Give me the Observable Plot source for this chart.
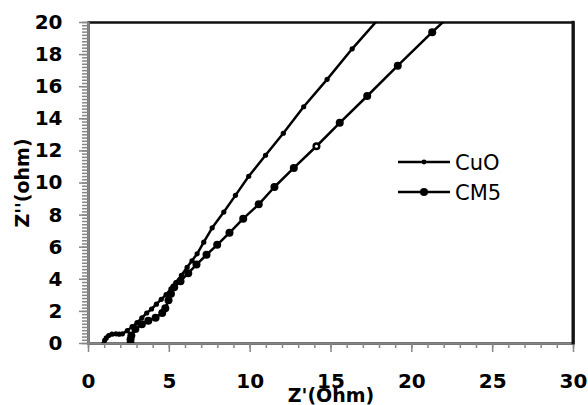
<!DOCTYPE html>
<html>
<head>
<meta charset="utf-8">
<script src="https://cdn.jsdelivr.net/npm/d3@7"></script>
<script src="https://cdn.jsdelivr.net/npm/@observablehq/plot@0.6"></script>
<style>
  html, body { margin: 0; padding: 0; background: #fff; overflow: hidden; }
  #wrap { position: relative; width: 588px; height: 405px; overflow: hidden; }
  #wrap svg { display: block; }
  #legend { position: absolute; left: 0; top: 0; }
</style>
</head>
<body>
<div id="wrap"></div>
<script>
// ---- data ----
const cuoX = [0.95, 1.0, 1.1, 1.25, 1.45, 1.7, 1.9, 2.1, 2.4, 2.7, 3.0, 3.3, 3.6, 3.9, 4.2, 4.5, 4.8, 5.1, 5.4, 5.75, 6.1, 6.4, 6.72, 7.13, 7.65, 8.37, 9.09, 9.91, 10.95, 12.05, 13.31, 14.76, 16.31, 18.1];
const cuoY = [0.0, 0.2, 0.35, 0.5, 0.58, 0.6, 0.58, 0.6, 0.8, 1.05, 1.3, 1.6, 1.9, 2.15, 2.45, 2.75, 3.05, 3.4, 3.8, 4.25, 4.75, 5.15, 5.59, 6.31, 7.21, 8.19, 9.23, 10.42, 11.73, 13.1, 14.75, 16.46, 18.36, 20.4];

const cm5X = [2.6, 2.6, 2.65, 2.9, 3.3, 3.7, 4.15, 4.56, 4.75, 4.95, 5.1, 5.3, 5.69, 6.17, 6.68, 7.30, 7.96, 8.72, 9.57, 10.53, 11.50, 12.70, 14.10, 15.54, 17.24, 19.13, 21.26, 23.5];
const cm5Y = [0.0, 0.25, 0.5, 0.9, 1.2, 1.42, 1.6, 1.9, 2.2, 2.7, 3.1, 3.5, 3.88, 4.38, 4.92, 5.53, 6.15, 6.9, 7.78, 8.67, 9.75, 10.94, 12.29, 13.75, 15.42, 17.31, 19.4, 21.5];
const cm5HollowIndex = 22;

const seriesNames = ["CuO", "CM5"];
const xMajorTicks = [0, 5, 10, 15, 20, 25, 30];
const xMinorTicks = d3.range(0, 31, 1);
const yMajorTicks = [0, 2, 4, 6, 8, 10, 12, 14, 16, 18, 20];
const yMinorTicks = d3.range(0, 101).map(i => i * 0.2);
const xTitle = "Z'(Ohm)";
const yTitle = "Z''(ohm)";

const cuo = cuoX.map((x, i) => ({x, y: cuoY[i]}));
const cm5 = cm5X.map((x, i) => ({x, y: cm5Y[i]}));
const hollow = [cm5[cm5HollowIndex]];

const gray = "#868686";
const font = "DejaVu Sans";

const chart = Plot.plot({
  width: 588,
  height: 405,
  marginLeft: 88,
  marginRight: 15,
  marginTop: 22,
  marginBottom: 62,
  style: {fontFamily: font, background: "white", color: "black"},
  x: {domain: [0, 30]},
  y: {domain: [0, 20]},
  marks: [
    Plot.frame({stroke: "#111", strokeWidth: 2.5}),
    Plot.ruleX([0], {stroke: gray, strokeWidth: 2.5}),
    Plot.ruleY([0], {stroke: gray, strokeWidth: 2.5}),
    Plot.axisY(yMinorTicks, {text: null, tickSize: 6, stroke: gray, strokeWidth: 1.5, label: null}),
    Plot.axisX(xMinorTicks, {text: null, tickSize: 5, stroke: gray, strokeWidth: 1.5, label: null}),
    Plot.axisY(yMajorTicks, {text: null, tickSize: 9, stroke: gray, strokeWidth: 1.5, label: null}),
    Plot.axisX(xMajorTicks, {text: null, tickSize: 9, stroke: gray, strokeWidth: 1.5, label: null}),
    Plot.axisY(yMajorTicks, {tickSize: 0, tickPadding: 26, fontSize: 20, fontWeight: "bold", fill: "black", label: null}),
    Plot.axisX(xMajorTicks, {tickSize: 0, tickPadding: 30, fontSize: 20, fontWeight: "bold", fill: "black", label: null}),
    Plot.text([xTitle], {frameAnchor: "bottom", dy: 58, fontSize: 19, fontWeight: "bold", fill: "black"}),
    Plot.text([yTitle], {frameAnchor: "left", dx: -66, rotate: -90, textAnchor: "middle", fontSize: 19, fontWeight: "bold", fill: "black"}),
    Plot.line(cuo, {x: "x", y: "y", stroke: "black", strokeWidth: 2.5, clip: true}),
    Plot.dot(cuo, {x: "x", y: "y", r: 2.6, fill: "black", stroke: "none", clip: true}),
    Plot.line(cm5, {x: "x", y: "y", stroke: "black", strokeWidth: 2.5, clip: true}),
    Plot.dot(cm5, {x: "x", y: "y", r: 4, fill: "black", stroke: "none", clip: true}),
    Plot.dot(hollow, {x: "x", y: "y", r: 1.5, fill: "white", stroke: "none", clip: true})
  ]
});

const wrap = document.getElementById("wrap");
wrap.appendChild(chart);

// overlay: right border of the plot area + legend
const xs = chart.scale("x"), ys = chart.scale("y");
const leg = d3.select(wrap).append("svg")
  .attr("id", "legend")
  .attr("width", 588).attr("height", 405)
  .style("pointer-events", "none");
const xr = xs.apply(30);
leg.append("rect")
  .attr("x", xr - 1.5).attr("y", ys.apply(20) - 1.25)
  .attr("width", 3).attr("height", ys.apply(0) - ys.apply(20) + 2.5)
  .attr("fill", "#141414");
const items = [
  {name: seriesNames[0], r: 2.4, cy: 162},
  {name: seriesNames[1], r: 4, cy: 192}
];
items.forEach(it => {
  leg.append("line").attr("x1", 398).attr("x2", 450).attr("y1", it.cy).attr("y2", it.cy)
    .attr("stroke", "black").attr("stroke-width", 2.5);
  leg.append("circle").attr("cx", 424).attr("cy", it.cy).attr("r", it.r).attr("fill", "black");
  leg.append("text").attr("x", 455).attr("y", it.cy).attr("dy", "0.36em")
    .attr("font-family", font).attr("font-size", 21).attr("fill", "black").text(it.name);
});
</script>
</body>
</html>
